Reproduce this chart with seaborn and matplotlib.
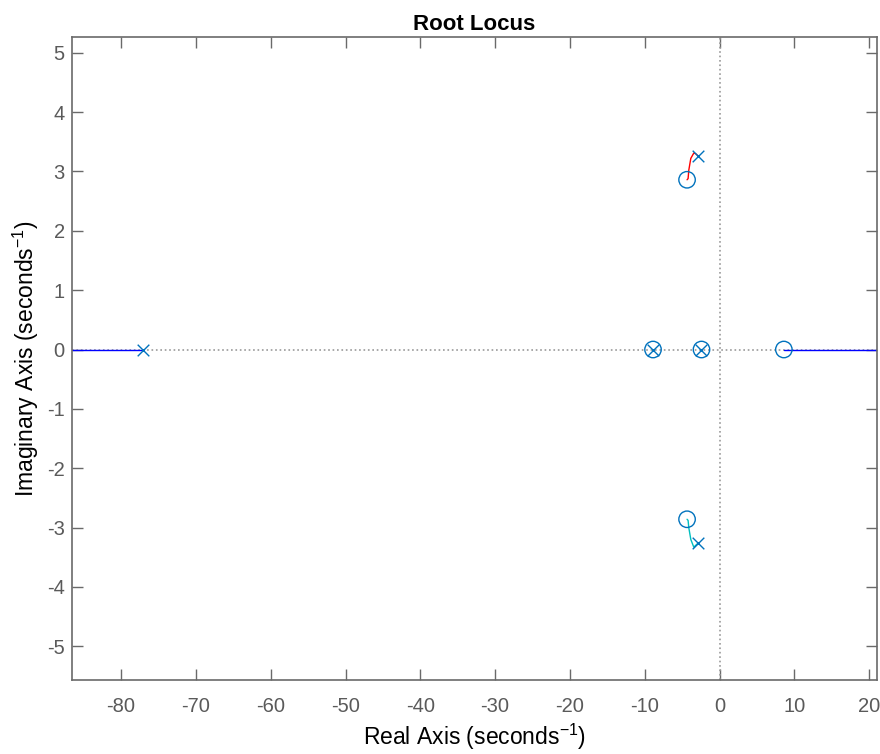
"""
Root locus plot redrawn with seaborn (MATLAB style).
"""
# Third-party
import matplotlib.pyplot as plt
import pandas as pd
import seaborn as sns

# Open-loop poles and zeros
POLE_RE = [-77.07, -2.86, -2.86, -8.89, -2.41]
POLE_IM = [0.0, 3.26, -3.26, 0.0, 0.0]
ZERO_RE = [-4.34, -4.34, -8.89, -2.41, 8.60]
ZERO_IM = [2.86, -2.86, 0.0, 0.0, 0.0]

# Locus branches
UPPER_RE = [-2.86, -3.20, -3.44, -3.84, -4.11, -4.20, -4.34]
UPPER_IM = [3.26, 3.30, 3.31, 3.22, 3.02, 2.88, 2.86]
LOWER_RE = [-2.86, -3.44, -3.84, -4.11, -4.20, -4.34]
LOWER_IM = [-3.26, -3.33, -3.20, -3.00, -2.88, -2.86]
LEFT_RE = [-86.6, -77.07]
RIGHT_RE = [8.60, 21.1]
# cancelled pole/zero pairs: tiny branches
GREEN_RE = [-8.95, -8.83]
PURPLE_RE = [-2.47, -2.35]

X_TICKS = [-80, -70, -60, -50, -40, -30, -20, -10, 0, 10, 20]
Y_TICKS = [-5, -4, -3, -2, -1, 0, 1, 2, 3, 4, 5]

MARK = "#0072BD"
AXC = "#6a6a6a"


def main():
    sns.set_style("white")
    plt.rcParams["font.family"] = ["Liberation Sans", "DejaVu Sans"]
    plt.rcParams["mathtext.fontset"] = "custom"
    plt.rcParams["mathtext.rm"] = "Liberation Sans"
    plt.rcParams["mathtext.it"] = "Liberation Sans"
    plt.rcParams["axes.unicode_minus"] = False

    fig = plt.figure(figsize=(8.8, 7.54), dpi=100)
    ax = fig.add_axes([0.0815, 0.098, 0.9155, 0.8525])

    ax.axhline(0, color="0.6", ls=":", lw=1.2, zorder=1)
    ax.axvline(0, color="0.6", ls=":", lw=1.2, zorder=1)

    # Branches
    sns.lineplot(x=LEFT_RE, y=[0, 0], color="blue", lw=1, ax=ax,
                 sort=False, zorder=2)
    sns.lineplot(x=RIGHT_RE, y=[0, 0], color="blue", lw=1, ax=ax,
                 sort=False, zorder=2)
    sns.lineplot(x=UPPER_RE, y=UPPER_IM, color="red", lw=1, ax=ax,
                 sort=False, zorder=2)
    sns.lineplot(x=LOWER_RE, y=LOWER_IM, color="#00bfbf", lw=1, ax=ax,
                 sort=False, zorder=2)
    sns.lineplot(x=GREEN_RE, y=[0, 0], color="green", lw=1.5, ax=ax,
                 sort=False, zorder=2)
    sns.lineplot(x=PURPLE_RE, y=[0, 0], color="#7e2f8e", lw=1.5, ax=ax,
                 sort=False, zorder=2)

    poles = pd.DataFrame({"re": POLE_RE, "im": POLE_IM})
    zeros = pd.DataFrame({"re": ZERO_RE, "im": ZERO_IM})
    sns.scatterplot(data=poles, x="re", y="im", marker="x", s=70,
                    color=MARK, linewidth=1.0, ax=ax, zorder=3)
    sns.scatterplot(data=zeros, x="re", y="im", marker="o", s=140,
                    facecolors="none", edgecolor=MARK, linewidth=1.0,
                    ax=ax, zorder=3)

    ax.set_xlim(-86.6, 21.1)
    ax.set_ylim(-5.57, 5.26)
    ax.set_xticks(X_TICKS)
    ax.set_yticks(Y_TICKS)

    for side in ax.spines.values():
        side.set_visible(True)
        side.set_color(AXC)
        side.set_linewidth(1.2)
    ax.tick_params(direction="in", length=8, width=1.0, color=AXC,
                   labelcolor="#5a5a5a", labelsize=14.5,
                   top=True, right=True, bottom=True, left=True)
    ax.tick_params(axis="x", pad=12)
    ax.tick_params(axis="y", pad=5)

    ax.set_xlabel("Real Axis (seconds$^{-1}$)", fontsize=16.5, labelpad=4,
                  color="black")
    ax.set_ylabel("Imaginary Axis (seconds$^{-1}$)", fontsize=16.5,
                  labelpad=4, color="black")
    ax.set_title("Root Locus", fontsize=16, fontweight="bold", pad=5,
                 color="black")

    fig.savefig("out.png", dpi=100)


if __name__ == "__main__":
    main()
